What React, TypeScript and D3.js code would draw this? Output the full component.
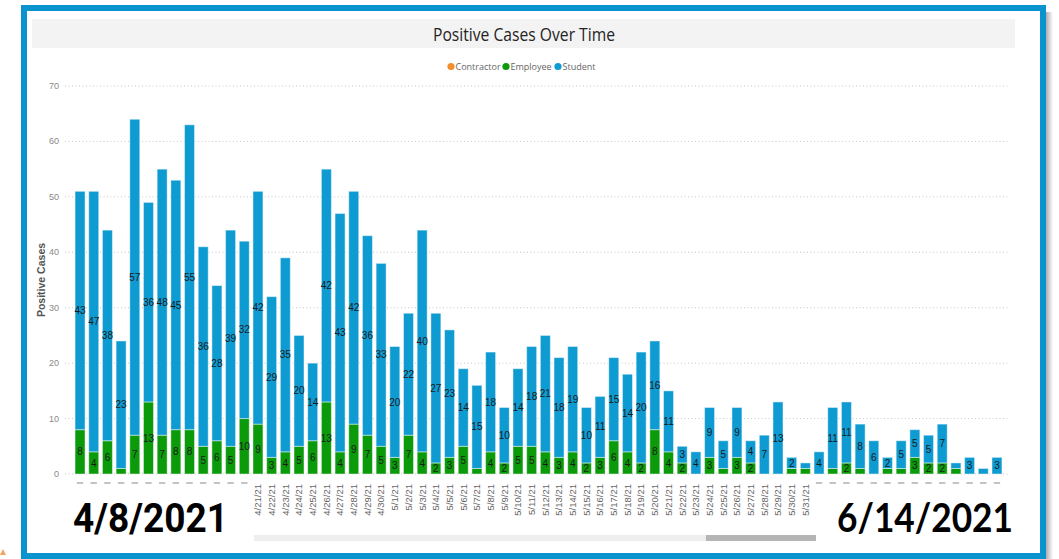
import React from "react";
import * as d3 from "d3";

const dates: string[] = [
  "4/8/21","4/9/21","4/10/21","4/11/21","4/12/21","4/13/21","4/14/21","4/15/21","4/16/21","4/17/21",
  "4/18/21","4/19/21","4/20/21","4/21/21","4/22/21","4/23/21","4/24/21","4/25/21","4/26/21","4/27/21",
  "4/28/21","4/29/21","4/30/21","5/1/21","5/2/21","5/3/21","5/4/21","5/5/21","5/6/21","5/7/21",
  "5/8/21","5/9/21","5/10/21","5/11/21","5/12/21","5/13/21","5/14/21","5/15/21","5/16/21","5/17/21",
  "5/18/21","5/19/21","5/20/21","5/21/21","5/22/21","5/23/21","5/24/21","5/25/21","5/26/21","5/27/21",
  "5/28/21","5/29/21","5/30/21","5/31/21","6/1/21","6/2/21","6/3/21","6/4/21","6/5/21","6/6/21",
  "6/7/21","6/8/21","6/9/21","6/10/21","6/11/21","6/12/21","6/13/21","6/14/21",
];

const contractor: number[] = new Array(68).fill(0);

const employee: number[] = [
  8,4,6,1,7,13,7,8,8,5,6,5,10,9,
  3,4,5,6,13,4,9,7,5,3,7,4,2,3,5,1,
  4,2,5,5,4,3,4,2,3,6,4,2,8,4,2,
  0,3,1,3,2,0,0,1,1,0,1,2,1,0,1,1,3,2,2,1,0,0,0,
];

const student: number[] = [
  43,47,38,23,57,36,48,45,55,36,28,39,32,42,
  29,35,20,14,42,43,42,36,33,20,22,40,27,23,14,15,
  18,10,14,18,21,18,19,10,11,15,14,20,16,11,3,
  4,9,5,9,4,7,13,2,1,4,11,11,8,6,2,5,5,5,7,1,3,1,3,
];

const yTicks: number[] = [0, 10, 20, 30, 40, 50, 60, 70];
const seriesNames: string[] = ["Contractor", "Employee", "Student"];
const seriesColors: string[] = ["#F28E2B", "#0A9A0A", "#0E9BD2"];
const firstLabel = 13; // 4/21/21
const lastLabel = 53; // 5/31/21

export default function App() {
  const W = 1059, H = 559;
  const x = d3.scaleBand<string>().domain(dates).range([73.2, 1003.8]).paddingInner(0.27).paddingOuter(0.135);
  const y = d3.scaleLinear().domain([0, 70]).range([474, 86]);
  const rows = dates.map((d, i) => ({ date: d, Contractor: contractor[i], Employee: employee[i], Student: student[i] }));
  const stacked = d3.stack<any>().keys(seriesNames)(rows);
  const bw = x.bandwidth();
  const font = "'Liberation Sans', Arial, sans-serif";

  return (
    <div style={{ position: "fixed", left: 0, top: 0, width: W, height: H, background: "#fff" }}>
      <svg width={W} height={H} style={{ display: "block" }}>
        <defs>
          <linearGradient id="shadow" x1="0" x2="1" y1="0" y2="0">
            <stop offset="0" stopColor="#888" stopOpacity="0.7" />
            <stop offset="1" stopColor="#888" stopOpacity="0" />
          </linearGradient>
        </defs>
        <rect x={0} y={0} width={W} height={H} fill="#fff" />
        {/* shadow */}
        <rect x={1046} y={12} width={7} height={H - 12} fill="url(#shadow)" />
        {/* frame */}
        <rect x={24} y={8} width={1019} height={548} fill="#fff" stroke="#0B93D0" strokeWidth={6} />
        {/* title bar */}
        <rect x={32} y={19} width={983} height={29} fill="#F3F3F3" />
        <text x={524} y={41} textAnchor="middle" fontFamily="'Open Sans', sans-serif" fontSize={18}
          fill="#252423" textLength={182} lengthAdjust="spacingAndGlyphs">Positive Cases Over Time</text>
        {/* legend */}
        {seriesNames.map((s, i) => {
          const cx = [451, 506, 558][i];
          return (
            <g key={s}>
              <circle cx={cx} cy={66.5} r={3.6} fill={seriesColors[i]} />
              <text x={cx + 4.5} y={69.8} fontFamily="'Open Sans', sans-serif" fontSize={9} fill="#666">{s}</text>
            </g>
          );
        })}
        {/* gridlines + y ticks */}
        {yTicks.map((t) => (
          <g key={t}>
            <line x1={65} x2={1010} y1={y(t)} y2={y(t)} stroke="#C8C8C8" strokeWidth={1} strokeDasharray="1,2.5" />
            <text x={59} y={y(t) + 3} textAnchor="end" fontFamily={font} fontSize={9} fill="#888">{t}</text>
          </g>
        ))}
        <text transform={`translate(45,280) rotate(-90)`} textAnchor="middle" fontFamily={font} fontSize={10.5}
          fontWeight="bold" fill="#555">Positive Cases</text>
        {/* bars */}
        {stacked.map((ser, si) => (
          <g key={ser.key}>
            {ser.map((d: any, i: number) => {
              const v = d[1] - d[0];
              if (v <= 0) return null;
              const x0 = x(dates[i])!;
              const y0 = y(d[1]);
              const h = y(d[0]) - y(d[1]);
              return (
                <g key={i}>
                  <rect x={x0} y={y0} width={bw} height={h} fill={seriesColors[si]}
                    stroke="rgba(255,255,255,0.45)" strokeWidth={1} />
                  {v >= 2 && (
                    <text x={x0 + bw / 2} y={y0 + h / 2 + 3.6} textAnchor="middle" fontFamily={font}
                      fontSize={10} fill="#1a1a1a">{v}</text>
                  )}
                </g>
              );
            })}
          </g>
        ))}
        {/* x labels */}
        {dates.map((d, i) => {
          const cx = x(d)! + bw / 2;
          if (i >= firstLabel && i <= lastLabel) {
            return (
              <text key={d} transform={`translate(${cx},484) rotate(-90)`} textAnchor="end" dy="0.35em"
                fontFamily={font} fontSize={9.5} fill="#666">{d}</text>
            );
          }
          return <line key={d} x1={cx - 3.2} x2={cx + 3.2} y1={483} y2={483} stroke="#888" strokeWidth={1} />;
        })}
        {/* scrollbar */}
        <rect x={254} y={535} width={562} height={6} fill="#EEEEEE" />
        <rect x={706} y={535} width={110} height={6} fill="#B5B5B5" />
        {/* overlay dates */}
        <text x={73} y={532} fontFamily="Roboto, sans-serif" fontWeight="bold" fontSize={41} fill="#000"
          textLength={155} lengthAdjust="spacingAndGlyphs">4/8/2021</text>
        <text x={837} y={532} fontFamily="Lato, sans-serif" fontWeight="bold" fontSize={40} fill="#000"
          textLength={176} lengthAdjust="spacingAndGlyphs">6/14/2021</text>
        {/* small orange corner mark */}
        <path d="M0,555 L3,549 L6,555 Z" fill="#F4A460" />
      </svg>
    </div>
  );
}
